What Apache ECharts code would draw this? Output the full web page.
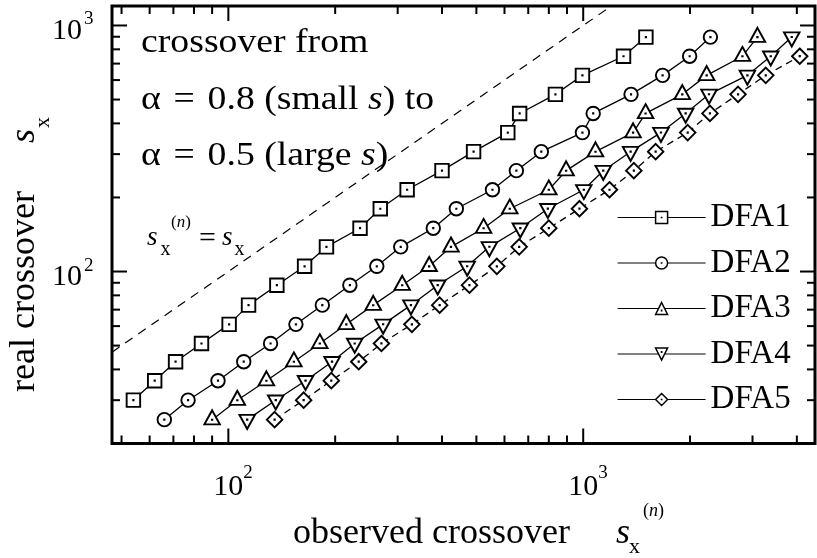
<!DOCTYPE html>
<html><head><meta charset="utf-8">
<script src="https://cdn.jsdelivr.net/npm/echarts@6/dist/echarts.min.js"></script>
<style>html,body{margin:0;padding:0;background:#fff}#c{width:817px;height:558px}</style>
</head><body><div id="c"></div>
<script>
// ---- data ----
// real crossover levels (y), shared by all series
const realCrossover = [25, 30, 36, 43, 51, 61, 73, 88, 105, 126, 150, 180, 215, 257, 307, 367, 439, 525, 627, 750, 897];
// observed crossover (x) for each series; DFA1 starts at level index 1, DFA5 stops at index 19
const dfa1Observed = [54, 62, 71, 84, 100.5, 114, 137, 164, 189, 235, 268, 319, 400, 491, 613, 662, 835, 995, 1299, 1502];
const dfa1Start = 1;
const dfa2Observed = [66, 77, 93.5, 110.5, 131.5, 155, 184, 220, 262, 306, 378, 439, 555, 648, 762, 995, 1067, 1364, 1674, 1995, 2283];
const dfa2Start = 0;
const dfa3Observed = [90, 106, 128, 153, 181, 215, 256, 309, 368, 424, 524, 621, 800, 895, 1083, 1382, 1499, 1902, 2228, 2810, 3097];
const dfa3Start = 0;
const dfa4Observed = [113, 136, 165, 196, 227, 273, 327, 389, 471, 544, 665, 795, 1004, 1139, 1360, 1656, 1944, 2262, 2902, 3377, 3870];
const dfa4Start = 0;
const dfa5Observed = [135, 163, 195, 233, 270, 329, 394, 478, 571, 660, 800, 976, 1186, 1389, 1600, 1970, 2276, 2731, 3269, 4076];
const dfa5Start = 0;
const seriesNames = ['DFA1', 'DFA2', 'DFA3', 'DFA4', 'DFA5'];
// identity line s_x^(n) = s_x
const identityLine = [47, 1200];
// axes
const xMin = 47, xMax = 4500, yMin = 20, yMax = 1200;
const xMajorTicks = [100, 1000];
const xMinorTicks = [50, 60, 70, 80, 90, 200, 300, 400, 500, 600, 700, 800, 900, 2000, 3000, 4000];
const yMajorTicks = [100, 1000];
const yMinorTicks = [30, 40, 50, 60, 70, 80, 90, 200, 300, 400, 500, 600, 700, 800, 900];

// ---- styling ----
const FONT = "'Liberation Serif', 'Times New Roman', serif";
const DOT = ' M4.9,4.9L5.1,4.9L5.1,5.1L4.9,5.1Z';
const symbols = [
  { path: 'path://M0,0L10,0L10,10L0,10Z' + DOT, size: 13.5, offset: [0, 0] },
  { path: 'path://M0,5A5,5,0,1,0,10,5A5,5,0,1,0,0,5Z' + DOT, size: 13.5, offset: [0, 0] },
  { path: 'path://M5,0L10,9L0,9Z M4.9,5.9L5.1,5.9L5.1,6.1L4.9,6.1Z', size: [15.5, 14], offset: [0, -2.3] },
  { path: 'path://M0,0L10,0L5,9Z M4.9,2.9L5.1,2.9L5.1,3.1L4.9,3.1Z', size: [15.5, 14], offset: [0, 2.3] },
  { path: 'path://M5,0L10,5L5,10L0,5Z' + DOT, size: 15.5, offset: [0, 0] }
];
const observed = [dfa1Observed, dfa2Observed, dfa3Observed, dfa4Observed, dfa5Observed];
const starts = [dfa1Start, dfa2Start, dfa3Start, dfa4Start, dfa5Start];

const chart = echarts.init(document.getElementById('c'), null, { renderer: 'canvas' });

function makeSeries(i) {
  const data = observed[i].map((x, j) => [x, realCrossover[starts[i] + j]]);
  return {
    name: seriesNames[i], type: 'line', data: data,
    symbol: symbols[i].path, symbolSize: symbols[i].size, symbolOffset: symbols[i].offset,
    showAllSymbol: true,
    itemStyle: { color: '#fff', borderColor: '#000', borderWidth: 1.9 },
    lineStyle: { color: '#000', width: 1.3, type: i === 4 ? [7, 5] : 'solid' },
    emphasis: { disabled: true }, z: 3
  };
}

function tickRenderer(dir) {
  return function (params, api) {
    const cs = params.coordSys;
    const major = api.value(2) === 1;
    const len = major ? 15 : 8;
    const st = { stroke: '#000', lineWidth: 2 };
    const ch = [];
    if (dir === 'x') {
      const v = api.value(0);
      const px = api.coord([v, yMin])[0];
      const yb = cs.y + cs.height, yt = cs.y;
      ch.push({ type: 'line', shape: { x1: px, y1: yb, x2: px, y2: yb - len }, style: st });
      ch.push({ type: 'line', shape: { x1: px, y1: yt, x2: px, y2: yt + len }, style: st });
      if (major) {
        const e = Math.round(Math.log10(v));
        ch.push({ type: 'text', x: px, y: yb + 43.5, style: { text: '10', fontSize: 30, fontFamily: FONT, fill: '#000', align: 'center', verticalAlign: 'middle' } });
        ch.push({ type: 'text', x: px + 15, y: yb + 30, style: { text: String(e), fontSize: 19, fontFamily: FONT, fill: '#000', align: 'left', verticalAlign: 'middle' } });
      }
    } else {
      const v = api.value(1);
      const py = api.coord([xMin, v])[1];
      const xl = cs.x, xr = cs.x + cs.width;
      ch.push({ type: 'line', shape: { x1: xl, y1: py, x2: xl + len, y2: py }, style: st });
      ch.push({ type: 'line', shape: { x1: xr, y1: py, x2: xr - len, y2: py }, style: st });
      if (major) {
        const e = Math.round(Math.log10(v));
        ch.push({ type: 'text', x: xl - 30, y: py + 6, style: { text: '10', fontSize: 30, fontFamily: FONT, fill: '#000', align: 'right', verticalAlign: 'middle' } });
        ch.push({ type: 'text', x: xl - 28, y: py - 6, style: { text: String(e), fontSize: 19, fontFamily: FONT, fill: '#000', align: 'left', verticalAlign: 'middle' } });
      }
    }
    return { type: 'group', children: ch };
  };
}

const txt = (x, y, text, size, extra, sx) => {
  const el = {
    type: 'text', x: x, y: y,
    style: Object.assign({ text: text, fontSize: size, fontFamily: FONT, fill: '#000', align: 'left', verticalAlign: 'middle' }, extra || {})
  };
  if (sx) el.scaleX = sx;
  return el;
};
const ital = { fontStyle: 'italic' };
const richI = (size) => ({ i: { fontStyle: 'italic', fontSize: size, fontFamily: FONT, fill: '#000' } });
const richAlpha = (size) => ({
  i: { fontStyle: 'italic', fontSize: size, fontFamily: FONT, fill: '#000' },
  a: { fontSize: size, fontFamily: FONT, fill: '#000', padding: [0, 3, 0, 0] },
  e: { fontSize: size, fontFamily: FONT, fill: '#000', padding: [0, 3, 0, 0] }
});
const SX = 1.11;

const option = {
  animation: false,
  backgroundColor: '#fff',
  grid: { left: 112, right: 2, top: 6, bottom: 114.5, show: true, borderColor: '#000', borderWidth: 3, backgroundColor: 'transparent', containLabel: false, outerBoundsMode: 'none' },
  xAxis: { type: 'log', logBase: 10, min: xMin, max: xMax, axisLine: { show: false }, axisTick: { show: false }, axisLabel: { show: false }, splitLine: { show: false }, minorTick: { show: false } },
  yAxis: { type: 'log', logBase: 10, min: yMin, max: yMax, axisLine: { show: false }, axisTick: { show: false }, axisLabel: { show: false }, splitLine: { show: false }, minorTick: { show: false } },
  legend: {
    orient: 'vertical', left: 617, top: 201, padding: 0,
    itemWidth: 88, itemHeight: 15, itemGap: 12.5,
    data: seriesNames, selectedMode: false,
    textStyle: { fontFamily: FONT, fontSize: 33, color: '#000', lineHeight: 33 },
    lineStyle: { type: 'solid', width: 1.2, color: '#000' },
    itemStyle: { borderWidth: 1.5 }
  },
  series: [
    { name: 'identity', type: 'line', data: [[identityLine[0], identityLine[0]], [identityLine[1], identityLine[1]]], symbol: 'none', lineStyle: { color: '#000', width: 1.2, type: [9, 7] }, silent: true, z: 2 },
    makeSeries(0), makeSeries(1), makeSeries(2), makeSeries(3), makeSeries(4),
    { type: 'custom', renderItem: tickRenderer('x'), data: xMajorTicks.map(v => [v, yMin, 1]).concat(xMinorTicks.map(v => [v, yMin, 0])), clip: false, silent: true, z: 5 },
    { type: 'custom', renderItem: tickRenderer('y'), data: yMajorTicks.map(v => [xMin, v, 1]).concat(yMinorTicks.map(v => [xMin, v, 0])), clip: false, silent: true, z: 5 }
  ],
  graphic: [
    txt(141, 43.5, 'crossover from', 34, null, SX),
    txt(141, 100.2, '{a|α} {e|=} 0.8 (small {i|s}) to', 34, { rich: richAlpha(34) }, SX),
    txt(141, 156.5, '{a|α} {e|=} 0.5 (large {i|s})', 34, { rich: richAlpha(34) }, SX),
    // s_x^(n) = s_x
    txt(147, 237.6, 's', 27, ital),
    txt(160.5, 250, 'x', 20),
    txt(171, 223, '({i|n})', 17, { rich: richI(17) }),
    txt(199, 239.4, '=', 30),
    txt(222, 237.6, 's', 27, ital),
    txt(234.5, 250, 'x', 20),
    // x axis title
    txt(293, 534, 'observed crossover', 36),
    txt(616, 534, 's', 36, ital),
    txt(629, 547.6, 'x', 22),
    txt(643, 511.7, '({i|n})', 18, { rich: richI(18) }),
    // y axis title (rotated)
    {
      type: 'group', x: 37, y: 400, rotation: Math.PI / 2,
      children: [
        txt(8, -12, 'real crossover', 36),
        txt(257, -12, 's', 36, ital),
        txt(272, 6, 'x', 22)
      ]
    }
  ]
};
chart.setOption(option);
</script>
</body></html>
